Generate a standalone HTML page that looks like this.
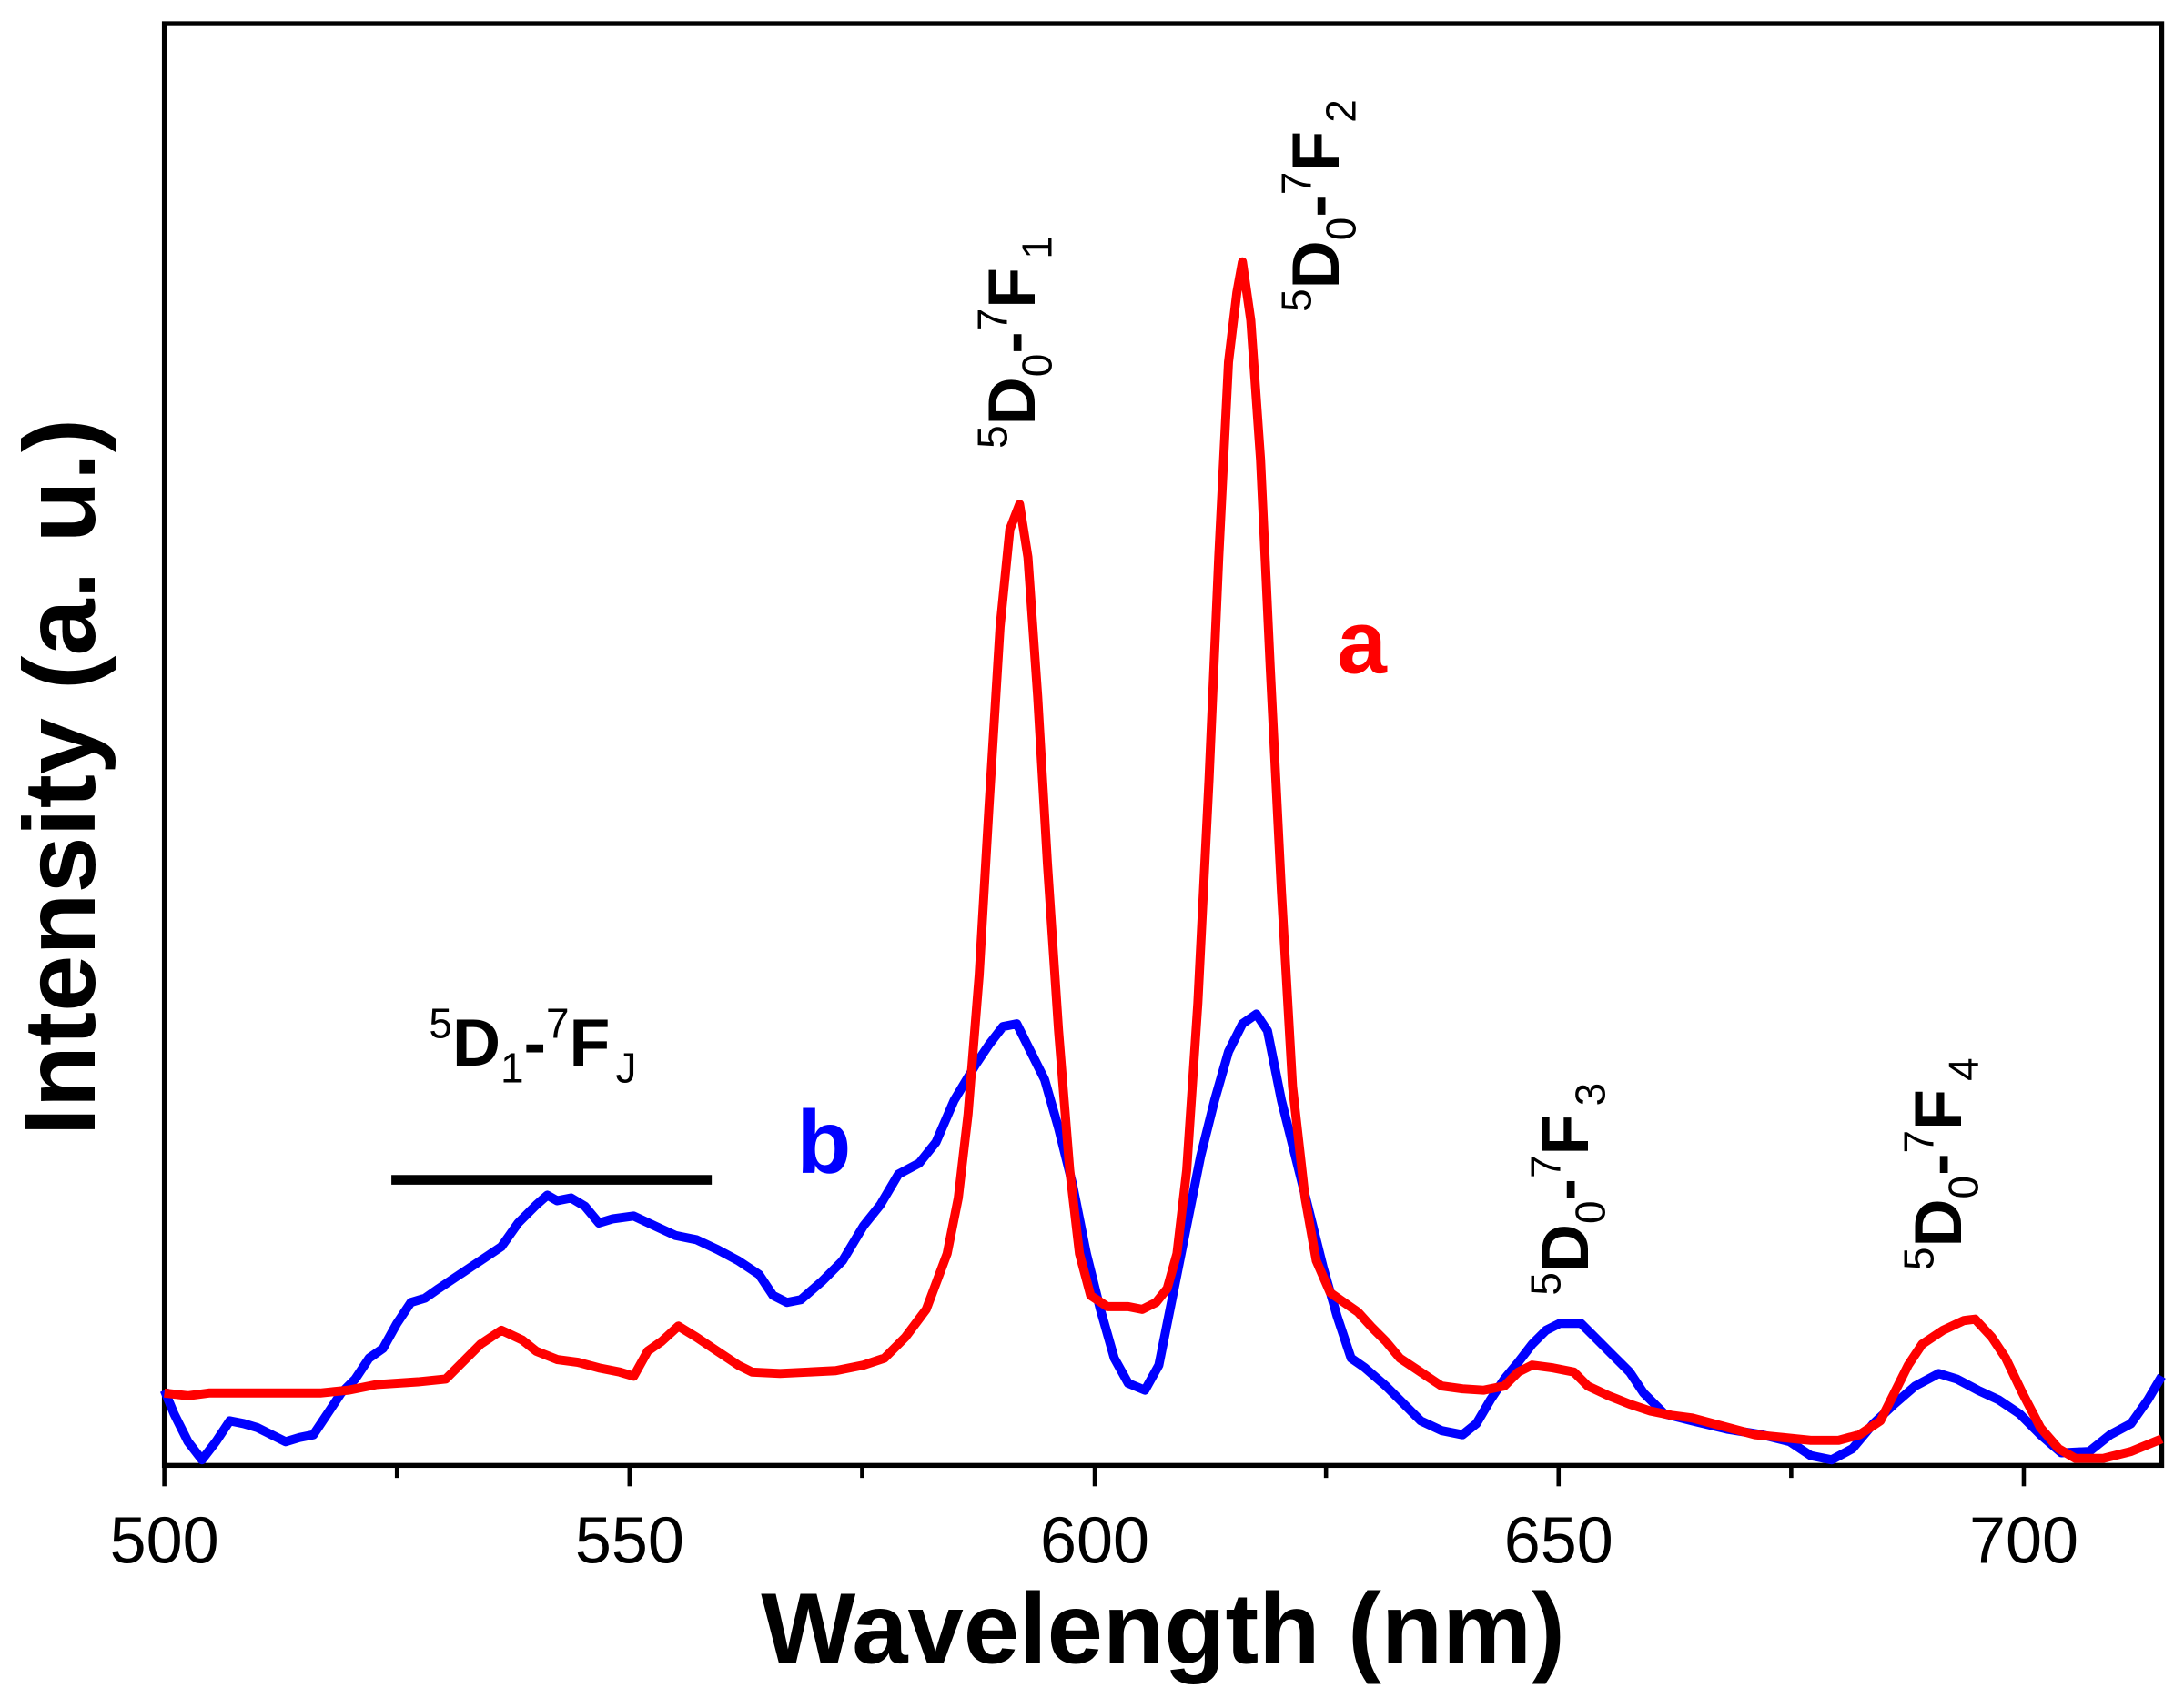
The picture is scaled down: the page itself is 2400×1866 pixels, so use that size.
<!DOCTYPE html>
<html><head><meta charset="utf-8"><style>html,body{margin:0;padding:0;background:#fff}svg{display:block}</style></head>
<body>
<svg width="2400" height="1866" viewBox="0 0 1568 1219" preserveAspectRatio="none" xmlns="http://www.w3.org/2000/svg" font-family="Liberation Sans, Arial, sans-serif">
<rect x="118" y="17" width="1434" height="1035" fill="none" stroke="#000" stroke-width="3.5"/>
<g stroke="#000" stroke-width="3">
<line x1="118" y1="1052" x2="118" y2="1067"/><line x1="452" y1="1052" x2="452" y2="1067"/><line x1="786" y1="1052" x2="786" y2="1067"/><line x1="1119" y1="1052" x2="1119" y2="1067"/><line x1="1453" y1="1052" x2="1453" y2="1067"/>
<line x1="285" y1="1052" x2="285" y2="1061"/><line x1="619" y1="1052" x2="619" y2="1061"/><line x1="952" y1="1052" x2="952" y2="1061"/><line x1="1286" y1="1052" x2="1286" y2="1061"/>
</g>
<g font-size="47" text-anchor="middle">
<text x="118" y="1122">500</text><text x="452" y="1122">550</text><text x="786" y="1122">600</text><text x="1119" y="1122">650</text><text x="1453" y="1122">700</text>
</g>
<text x="835" y="1194" font-size="72" font-weight="bold" text-anchor="middle">Wavelength (nm)</text>
<text transform="translate(68,558) rotate(-90)" font-size="73" font-weight="bold" text-anchor="middle">Intensity (a. u.)</text>

<polyline fill="none" stroke="#0000ff" stroke-width="6.5" stroke-linejoin="round" points="118,998 125,1015 135,1035 145,1048 155,1035 165,1020 175,1022 185,1025 195,1030 205,1035 215,1032 225,1030 235,1015 245,1000 255,990 265,975 275,968 285,950 295,935 305,932 315,925 330,915 345,905 360,895 372,878 385,865 393,858 400,862 410,860 420,866 430,878 440,875 455,873 470,880 485,887 500,890 515,897 530,905 545,915 555,930 565,935 575,933 590,920 605,905 620,880 632,865 645,843 660,835 672,820 685,790 700,765 710,750 720,737 730,735 740,755 750,775 760,810 770,850 780,900 790,940 800,975 810,993 822,998 832,980 842,930 852,880 862,830 872,790 882,755 892,735 902,728 910,740 920,790 930,830 940,870 950,910 960,945 970,975 980,982 995,995 1005,1005 1020,1020 1035,1027 1050,1030 1060,1022 1070,1005 1080,990 1090,978 1100,965 1110,955 1120,950 1135,950 1145,960 1155,970 1170,985 1180,1000 1195,1015 1215,1020 1240,1026 1265,1030 1285,1035 1300,1045 1315,1048 1330,1040 1345,1022 1360,1008 1375,995 1392,986 1405,990 1420,998 1435,1005 1450,1015 1465,1030 1480,1043 1500,1042 1515,1030 1530,1022 1542,1005 1552,988"/>
<polyline fill="none" stroke="#ff0000" stroke-width="6.5" stroke-linejoin="round" points="118,1000 135,1002 150,1000 170,1000 200,1000 230,1000 250,998 270,994 300,992 320,990 335,975 345,965 360,955 375,962 385,970 400,976 415,978 430,982 445,985 455,988 465,970 475,963 487,952 500,960 515,970 530,980 540,985 560,986 580,985 600,984 620,980 635,975 650,960 665,940 680,900 688,860 695,800 703,700 710,580 718,450 725,380 732,362 738,400 745,500 752,620 760,740 768,840 775,900 783,930 795,938 810,938 820,940 830,935 838,925 845,900 852,840 860,720 868,560 875,400 882,260 888,210 892,188 898,230 905,330 912,480 920,640 928,780 937,860 945,905 955,928 965,935 975,942 985,953 995,963 1005,975 1020,985 1035,995 1050,997 1065,998 1080,995 1090,985 1100,980 1115,982 1130,985 1140,995 1155,1002 1170,1008 1185,1013 1200,1016 1215,1018 1230,1022 1245,1026 1260,1030 1280,1032 1300,1034 1320,1034 1335,1030 1350,1020 1360,1000 1370,980 1380,965 1395,955 1410,948 1418,947 1430,960 1440,975 1452,1000 1465,1025 1478,1040 1490,1047 1510,1047 1530,1042 1552,1033"/>

<line x1="281" y1="847" x2="511" y2="847" stroke="#000" stroke-width="7"/>
<text x="308" y="765" font-size="48" font-weight="bold"><tspan font-size="30" font-weight="normal" dy="-20">5</tspan><tspan dy="20">D</tspan><tspan font-size="30" font-weight="normal" dy="12">1</tspan><tspan dy="-12">-</tspan><tspan font-size="30" font-weight="normal" dy="-20">7</tspan><tspan dy="20">F</tspan><tspan font-size="30" font-weight="normal" dy="12" dx="4">J</tspan></text>

<g font-size="48" font-weight="bold">
<text transform="translate(743,322) rotate(-90)"><tspan font-size="30" font-weight="normal" dy="-20">5</tspan><tspan dy="20">D</tspan><tspan font-size="30" font-weight="normal" dy="12">0</tspan><tspan dy="-12">-</tspan><tspan font-size="30" font-weight="normal" dy="-20">7</tspan><tspan dy="20">F</tspan><tspan font-size="30" font-weight="normal" dy="12" dx="6">1</tspan></text>
<text transform="translate(961,224) rotate(-90)"><tspan font-size="30" font-weight="normal" dy="-20">5</tspan><tspan dy="20">D</tspan><tspan font-size="30" font-weight="normal" dy="12">0</tspan><tspan dy="-12">-</tspan><tspan font-size="30" font-weight="normal" dy="-20">7</tspan><tspan dy="20">F</tspan><tspan font-size="30" font-weight="normal" dy="12" dx="6">2</tspan></text>
<text transform="translate(1140,930) rotate(-90)"><tspan font-size="30" font-weight="normal" dy="-20">5</tspan><tspan dy="20">D</tspan><tspan font-size="30" font-weight="normal" dy="12">0</tspan><tspan dy="-12">-</tspan><tspan font-size="30" font-weight="normal" dy="-20">7</tspan><tspan dy="20">F</tspan><tspan font-size="30" font-weight="normal" dy="12" dx="6">3</tspan></text>
<text transform="translate(1408,912) rotate(-90)"><tspan font-size="30" font-weight="normal" dy="-20">5</tspan><tspan dy="20">D</tspan><tspan font-size="30" font-weight="normal" dy="12">0</tspan><tspan dy="-12">-</tspan><tspan font-size="30" font-weight="normal" dy="-20">7</tspan><tspan dy="20">F</tspan><tspan font-size="30" font-weight="normal" dy="12" dx="6">4</tspan></text>
</g>
<text x="960" y="483" font-size="64" font-weight="bold" fill="#ff0000">a</text>
<text x="572" y="842" font-size="64" font-weight="bold" fill="#0000ff">b</text>
</svg>
</body></html>
